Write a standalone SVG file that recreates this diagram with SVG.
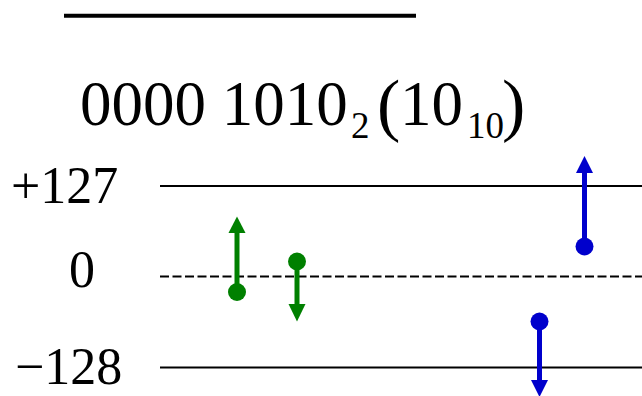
<svg xmlns="http://www.w3.org/2000/svg" width="642" height="396" viewBox="0 0 642 396">
<style>
text{font-family:"Liberation Serif","Times New Roman",serif;fill:#000}
.lbl{font-size:52px}
.lvl{stroke:#000;stroke-width:2;fill:none}
.g{stroke:#008000;fill:#008000}
.b{stroke:#0000cc;fill:#0000cc}
.stem{stroke-width:5;fill:none}
</style>
<rect width="642" height="396" fill="#fff"/>
<line x1="64" y1="15.7" x2="416" y2="15.7" stroke="#000" stroke-width="4"/>
<g id="title">
<text x="80" y="125" font-size="63">0000 1010</text>
<text x="351" y="138" font-size="37">2</text>
<text x="377" y="128" font-size="70">(</text>
<text x="400" y="125" font-size="63">10</text>
<text x="467" y="138" font-size="37">10</text>
<text x="502" y="128" font-size="70">)</text>
</g>
<g id="labels">
<text class="lbl" x="11" y="203">+127</text>
<text class="lbl" x="69" y="287">0</text>
<text class="lbl" x="15" y="384">−128</text>
</g>
<g id="levels">
<line class="lvl" x1="160" y1="186" x2="642" y2="186"/>
<line class="lvl" x1="160" y1="276.5" x2="642" y2="276.5" stroke-dasharray="9,3.5"/>
<line class="lvl" x1="160" y1="367.5" x2="642" y2="367.5"/>
</g>
<g id="connectors">
<g id="g1" class="g">
<line class="stem" x1="237" y1="292" x2="237" y2="230"/>
<circle cx="237" cy="292" r="9" stroke="none"/>
<polygon points="237,216.5 228.5,233 245.5,233" stroke="none"/>
</g>
<g id="g2" class="g">
<line class="stem" x1="297" y1="262" x2="297" y2="307"/>
<circle cx="297" cy="261.5" r="9" stroke="none"/>
<polygon points="297,321.5 288.5,304 305.5,304" stroke="none"/>
</g>
<g id="b1" class="b">
<line class="stem" x1="584.5" y1="246.5" x2="584.5" y2="170"/>
<circle cx="584.5" cy="246.5" r="9" stroke="none"/>
<polygon points="584.5,156 576,173 593,173" stroke="none"/>
</g>
<g id="b2" class="b">
<line class="stem" x1="539.5" y1="321.5" x2="539.5" y2="383"/>
<circle cx="539.5" cy="321.5" r="9" stroke="none"/>
<polygon points="539.5,397 531,380 548,380" stroke="none"/>
</g>
</g>
</svg>
